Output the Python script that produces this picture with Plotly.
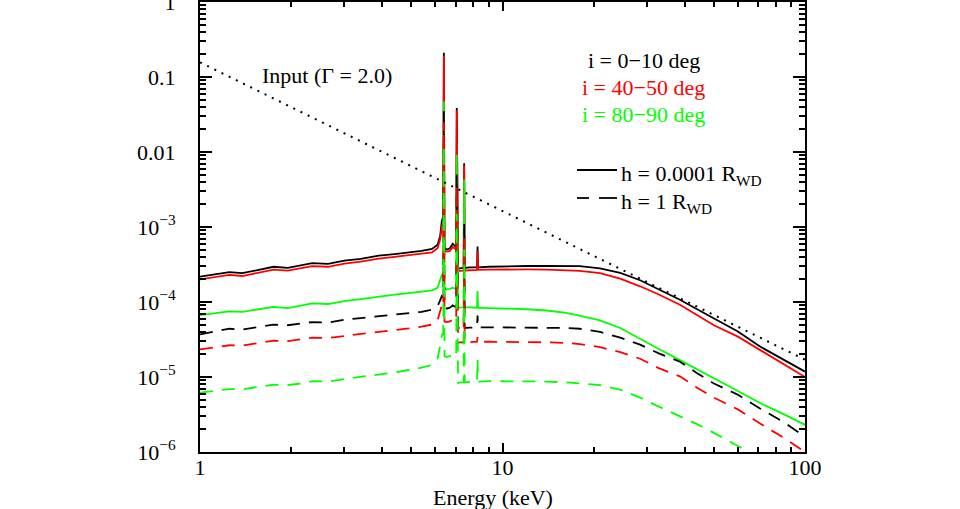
import plotly.graph_objects as go

# ---------------- data ----------------
energy = [1.00, 1.12, 1.25, 1.38, 1.55, 1.75, 1.95, 2.15, 2.35, 2.65, 3.0, 3.4, 3.9, 4.4, 4.9,
          5.4, 5.85, 6.10, 6.22, 6.30, 6.37, 6.40, 6.43, 6.55, 6.70, 6.85, 6.98, 7.03, 7.06,
          7.09, 7.13, 7.20, 7.44, 7.47, 7.50, 7.80, 8.24, 8.27, 8.30, 9.0, 10, 12, 14, 16, 18,
          21, 24.5, 28.5, 33, 38.6, 44, 50, 60, 71, 85, 100]

# h = 0.0001 R_WD (solid)
black_solid = [2.18e-4, 2.35e-4, 2.50e-4, 2.42e-4, 2.65e-4, 2.95e-4, 2.85e-4, 3.05e-4, 3.30e-4,
               3.22e-4, 3.55e-4, 3.75e-4, 4.15e-4, 4.35e-4, 4.55e-4, 4.80e-4, 5.1e-4, 5.8e-4,
               7.5e-4, 1.2e-3, 1.39e-3, 0.21, 5.2e-4, 5.0e-4, 5.2e-4, 6.0e-4, 5.5e-4, 5.5e-4,
               0.0387, 5.4e-4, 2.75e-4, 2.8e-4, 2.85e-4, 7.1e-3, 2.85e-4, 2.9e-4, 2.9e-4,
               5.5e-4, 2.9e-4, 2.95e-4, 3.0e-4, 3.02e-4, 3.04e-4, 3.05e-4, 3.0e-4, 2.8e-4,
               2.45e-4, 1.95e-4, 1.47e-4, 1.07e-4, 8.0e-5, 6.0e-5, 4.05e-5, 2.55e-5, 1.7e-5, 1.18e-5]
red_solid = [2.0e-4, 2.15e-4, 2.3e-4, 2.22e-4, 2.42e-4, 2.7e-4, 2.62e-4, 2.8e-4, 3.0e-4, 2.95e-4,
             3.25e-4, 3.45e-4, 3.8e-4, 4.0e-4, 4.2e-4, 4.4e-4, 4.6e-4, 5.2e-4, 6.8e-4, 1.0e-3,
             1.15e-3, 0.19, 4.8e-4, 4.7e-4, 4.8e-4, 5.4e-4, 5.0e-4, 5.0e-4, 0.036, 5.0e-4, 2.6e-4,
             2.6e-4, 2.62e-4, 6.6e-3, 2.62e-4, 2.65e-4, 2.68e-4, 4.8e-4, 2.68e-4, 2.7e-4, 2.72e-4,
             2.72e-4, 2.71e-4, 2.68e-4, 2.6e-4, 2.42e-4, 2.05e-4, 1.62e-4, 1.25e-4, 9.2e-5, 6.7e-5,
             4.9e-5, 3.45e-5, 2.3e-5, 1.5e-5, 1.0e-5]
green_solid = [6.7e-5, 7.1e-5, 7.5e-5, 7.4e-5, 7.9e-5, 8.6e-5, 8.3e-5, 8.9e-5, 9.6e-5, 9.4e-5,
               1.03e-4, 1.09e-4, 1.18e-4, 1.25e-4, 1.31e-4, 1.37e-4, 1.43e-4, 1.55e-4, 1.9e-4,
               2.3e-4, 2.4e-4, 0.047, 1.5e-4, 1.48e-4, 1.5e-4, 1.55e-4, 1.5e-4, 1.5e-4, 9.2e-3,
               1.5e-4, 8.3e-5, 8.4e-5, 8.5e-5, 4.3e-3, 8.5e-5, 8.5e-5, 8.4e-5, 1.4e-4, 8.4e-5,
               8.3e-5, 8.2e-5, 8.0e-5, 7.7e-5, 7.2e-5, 6.6e-5, 5.7e-5, 4.5e-5, 3.2e-5, 2.35e-5,
               1.68e-5, 1.25e-5, 9.6e-6, 6.5e-6, 4.5e-6, 3.2e-6, 2.3e-6]

# h = 1 R_WD (dashed)
black_dashed = [3.7e-5, 4.0e-5, 4.4e-5, 4.3e-5, 4.6e-5, 5.0e-5, 4.9e-5, 5.1e-5, 5.4e-5, 5.3e-5,
                5.8e-5, 6.1e-5, 6.5e-5, 6.8e-5, 7.1e-5, 7.4e-5, 7.9e-5, 8.8e-5, 1.05e-4, 1.2e-4,
                1.15e-4, 0.035, 8.3e-5, 8.2e-5, 8.4e-5, 9.0e-5, 8.6e-5, 8.6e-5, 5e-3, 8.5e-5,
                4.5e-5, 4.5e-5, 4.5e-5, 1.1e-3, 4.5e-5, 4.55e-5, 4.6e-5, 6.6e-5, 4.6e-5, 4.6e-5,
                4.6e-5, 4.6e-5, 4.6e-5, 4.5e-5, 4.4e-5, 4.0e-5, 3.35e-5, 2.7e-5, 2.05e-5, 1.6e-5,
                1.12e-5, 8.2e-6, 5.8e-6, 3.8e-6, 2.5e-6, 1.6e-6]
red_dashed = [2.34e-5, 2.5e-5, 2.65e-5, 2.62e-5, 2.8e-5, 3.05e-5, 3.0e-5, 3.15e-5, 3.35e-5, 3.3e-5,
              3.55e-5, 3.75e-5, 4.0e-5, 4.2e-5, 4.45e-5, 4.7e-5, 5.0e-5, 5.7e-5, 7.5e-5, 9.0e-5,
              8.5e-5, 0.025, 5.5e-5, 5.4e-5, 5.5e-5, 5.8e-5, 5.6e-5, 5.6e-5, 3.5e-3, 5.5e-5,
              2.85e-5, 2.9e-5, 2.9e-5, 7e-4, 2.9e-5, 2.92e-5, 2.95e-5, 3.4e-5, 2.95e-5, 2.95e-5,
              2.95e-5, 2.95e-5, 2.9e-5, 2.85e-5, 2.75e-5, 2.5e-5, 2.15e-5, 1.75e-5, 1.3e-5, 1.02e-5,
              7.2e-6, 5.3e-6, 3.7e-6, 2.4e-6, 1.55e-6, 1.0e-6]
green_dashed = [6.2e-6, 6.5e-6, 6.9e-6, 6.85e-6, 7.3e-6, 7.9e-6, 7.8e-6, 8.2e-6, 8.8e-6, 8.7e-6,
                9.4e-6, 1.0e-5, 1.08e-5, 1.15e-5, 1.24e-5, 1.33e-5, 1.45e-5, 1.75e-5, 2.6e-5,
                3.6e-5, 3.9e-5, 0.012, 1.9e-5, 1.85e-5, 1.9e-5, 2.0e-5, 1.9e-5, 1.9e-5, 1.5e-3,
                1.9e-5, 8.3e-6, 8.4e-6, 8.5e-6, 5e-4, 8.5e-6, 8.6e-6, 8.7e-6, 1.75e-5, 8.7e-6,
                8.8e-6, 8.8e-6, 8.8e-6, 8.7e-6, 8.5e-6, 8.2e-6, 7.8e-6, 6.8e-6, 5.3e-6, 4.0e-6,
                3.0e-6, 2.35e-6, 1.8e-6, 1.2e-6, 8.0e-7, 5.3e-7, 3.7e-7]

# input power law (Gamma = 2.0), dotted
input_energy = [1.0, 100.0]
input_flux = [0.157, 1.7e-5]

y_tickvals = [1e-6, 1e-5, 1e-4, 1e-3, 0.01, 0.1, 1]
y_ticktext = ["10<sup>\u22126</sup>", "10<sup>\u22125</sup>", "10<sup>\u22124</sup>",
              "10<sup>\u22123</sup>", "0.01", "0.1", "1"]
x_tickvals = [1, 10, 100]
x_ticktext = ["1", "10", "100"]

BLACK, RED, GREEN = "#000000", "#ff0000", "#00ff00"
FONT = "Liberation Serif"

# ---------------- figure ----------------
fig = go.Figure()
DASH = "13px,9px"
for vals, col, dash in [(black_solid, BLACK, "solid"), (red_solid, RED, "solid"),
                        (green_solid, GREEN, "solid"), (black_dashed, BLACK, DASH),
                        (red_dashed, RED, DASH), (green_dashed, GREEN, DASH)]:
    fig.add_trace(go.Scatter(x=energy, y=vals, mode="lines",
                             line=dict(color=col, width=1.8, dash=dash),
                             showlegend=False, hoverinfo="skip"))
fig.add_trace(go.Scatter(x=input_energy, y=input_flux, mode="lines",
                         line=dict(color=BLACK, width=2, dash="2px,6px"),
                         showlegend=False, hoverinfo="skip"))

L, R, T, B = 200, 155, 2, 57
W, H = 960, 509
PW, PH = W - L - R, H - T - B


def px(x):
    return (x - L) / PW


def py(y):
    return (H - B - y) / PH


minor_x = [m * 10 ** k for k in range(0, 2) for m in range(2, 10)]
minor_y = [m * 10.0 ** k for k in range(-6, 0) for m in range(2, 10)]

axis_common = dict(type="log", showline=True, linewidth=2, linecolor=BLACK, mirror="allticks",
                   ticks="inside", tickwidth=1.5, tickcolor=BLACK, showgrid=False,
                   zeroline=False, automargin=False, ticklabeloverflow="allow",
                   tickfont=dict(family=FONT, size=22, color=BLACK))

fig.update_xaxes(range=[0, 2], tickmode="array", tickvals=x_tickvals, ticktext=x_ticktext,
                 ticklen=9, ticklabelstandoff=-5,
                 minor=dict(tickmode="array", tickvals=minor_x, ticks="inside", ticklen=5,
                            tickwidth=1.5, tickcolor=BLACK, showgrid=False),
                 **axis_common)
fig.update_yaxes(range=[-6, 0], tickmode="array", tickvals=y_tickvals, ticktext=y_ticktext,
                 ticklen=12, ticklabelstandoff=18,
                 minor=dict(tickmode="array", tickvals=minor_y, ticks="inside", ticklen=6,
                            tickwidth=1.5, tickcolor=BLACK, showgrid=False),
                 **axis_common)

PAPER = dict(xref="paper", yref="paper", showarrow=False, yanchor="middle")
ann = []
ann.append(dict(x=px(493), y=py(497), text="Energy (keV)", xanchor="center",
                font=dict(size=22, color=BLACK), **PAPER))
ann.append(dict(x=px(260), y=py(75), text="Input (\u0393 = 2.0)", xanchor="left",
                font=dict(size=22, color=BLACK), **PAPER))
for txt, col, yy in [("i = 0\u221210 deg", BLACK, 60), ("i = 40\u221250 deg", RED, 87),
                     ("i = 80\u221290 deg", GREEN, 115)]:
    ann.append(dict(x=px(643.5), y=py(yy), text=txt, xanchor="center",
                    font=dict(size=22, color=col), **PAPER))
ann.append(dict(x=px(619), y=py(175), text="h = 0.0001 R<sub>WD</sub>", xanchor="left",
                font=dict(size=22, color=BLACK), **PAPER))
ann.append(dict(x=px(619), y=py(203), text="h = 1 R<sub>WD</sub>", xanchor="left",
                font=dict(size=22, color=BLACK), **PAPER))

shapes = [
    dict(type="line", xref="paper", yref="paper", x0=px(577), x1=px(617), y0=py(170), y1=py(170),
         line=dict(color=BLACK, width=1.8)),
    dict(type="line", xref="paper", yref="paper", x0=px(577), x1=px(589), y0=py(198), y1=py(198),
         line=dict(color=BLACK, width=1.8)),
    dict(type="line", xref="paper", yref="paper", x0=px(599), x1=px(617), y0=py(198), y1=py(198),
         line=dict(color=BLACK, width=1.8)),
]

fig.update_layout(width=W, height=H, margin=dict(l=L, r=R, t=T, b=B, autoexpand=False),
                  paper_bgcolor="white", plot_bgcolor="white",
                  font=dict(family=FONT, size=22, color=BLACK),
                  annotations=ann, shapes=shapes, showlegend=False)

fig.write_html("out.html", config={"displayModeBar": False},
               post_script="document.body.style.margin='0';document.body.style.padding='0';")
